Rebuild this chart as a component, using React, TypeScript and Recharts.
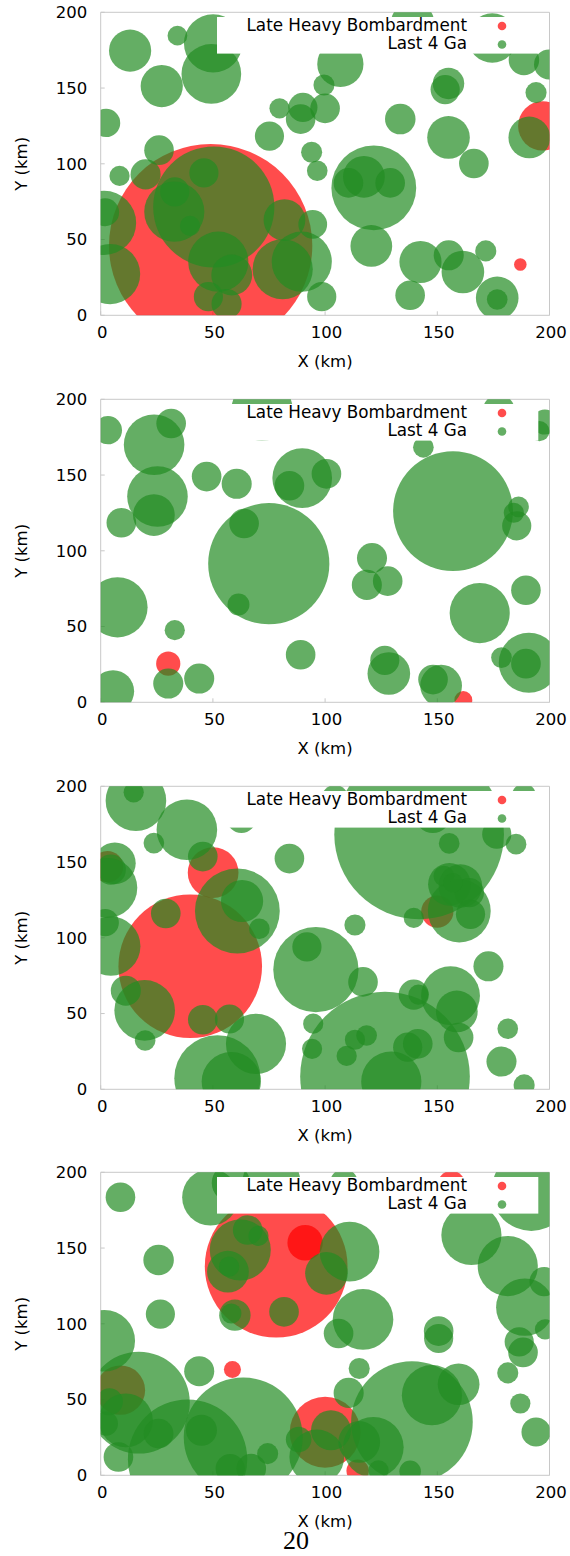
import { Legend, Scatter, ScatterChart, XAxis, YAxis } from "recharts";

// one crater: [x km, y km, radius km]
type Row = [number, number, number];

const TICKS = [0, 50, 100, 150, 200];
const SERIES_NAMES = ["Late Heavy Bombardment", "Last 4 Ga"];
const X_TITLE = "X (km)";
const Y_TITLE = "Y (km)";
const PAGE_NUMBER = "20";

const lhb1: Row[] = [
  [49, 46, 45.3], [197, 125, 11], [187, 33.5, 2.8],
];
const recent1: Row[] = [
  [13.1, 174.7, 9.4], [34.2, 184.6, 4.4], [50.1, 179.5, 13], [49.3, 159.3, 13.3],
  [27.2, 151.3, 9.4], [2.4, 127, 6.3], [26, 109, 6.6], [8.4, 92, 4.5],
  [20, 93, 6.7], [46, 94, 6.5], [33, 81.5, 6.5], [32.8, 68.4, 13.4],
  [39.8, 59, 4.5], [50.4, 71.5, 27], [1.5, 61, 14.3], [2, 68, 6.2],
  [4.2, 27.2, 13.4], [81.9, 62.9, 9.3], [94.5, 60, 6.4], [89.6, 35.4, 13.4],
  [81.1, 30.4, 13.4], [52.4, 35.4, 13.4], [58.4, 26.6, 9.1], [48, 12.3, 6.5],
  [56.1, 7.5, 6.7], [98.5, 12.3, 6.5], [94, 107.6, 4.7], [96.5, 95.4, 4.6],
  [75.2, 118.3, 6.5], [79.7, 136.6, 4.5], [90.1, 137.2, 6.5], [89.1, 129.5, 6.6],
  [100, 136.6, 6.6], [99.5, 152, 4.7], [106.8, 165.9, 10.3], [133.5, 129.5, 6.8],
  [121.7, 84.1, 18.9], [117.3, 91.4, 9.3], [110.4, 87.4, 6.6], [129, 87.4, 6.6],
  [120.6, 45.8, 9.3], [155, 117.4, 9.5], [155, 153, 7], [153.5, 149, 6.5],
  [166.3, 100.2, 6.6], [194, 147, 4.7], [191, 117.4, 9.3], [199.8, 165.6, 6.7],
  [188.6, 168.5, 6.8], [174.5, 183, 11], [139, 192.4, 9.8], [137.9, 13.2, 6.6],
  [142.5, 35.2, 9.4], [155.1, 39.6, 6.7], [161.4, 28.6, 9.5], [171.6, 42.5, 4.7],
  [176.7, 11.5, 9.5], [176.7, 10.4, 4.6],
];

const lhb2: Row[] = [
  [30.1, 25.5, 5.4], [161.6, 1.5, 4],
];
const recent2: Row[] = [
  [3.2, 179.6, 6.3], [23.8, 170, 13.5], [31.4, 184, 6.6], [25.3, 135.8, 13.5],
  [23.7, 123.6, 9.3], [9.2, 118.5, 6.6], [47.2, 149, 6.6], [60.6, 144.2, 6.7],
  [63.9, 118, 6.6], [74.9, 91.5, 27], [61.4, 64.5, 4.9], [89.8, 148, 13.3],
  [84.1, 142.9, 6.6], [100.6, 150.8, 6.6], [7.5, 62.7, 13.4], [33, 47.6, 4.5],
  [30.1, 12.4, 6.7], [43.9, 15.7, 6.7], [5.5, 7.3, 9.4], [89.1, 31.4, 6.6],
  [143.8, 168.3, 4.6], [157, 126.2, 26.7], [120.9, 95.2, 6.7], [118.6, 77.5, 6.7],
  [127.9, 80, 6.6], [186.2, 129, 4.6], [184.1, 125.1, 4.5], [185.4, 116.5, 6.5],
  [189.5, 74, 6.6], [168.9, 58.9, 13.4], [178.6, 29.5, 4.6], [190.8, 26.1, 13.4],
  [189.5, 25.5, 6.6], [126.6, 27.7, 6.5], [128.4, 19, 9.5], [148.1, 15, 6.6],
  [151.7, 11, 9.3], [197.9, 185, 5.6], [195.5, 179, 4.5], [71.9, 192.9, 13.7],
  [177.4, 192.6, 7.1],
];

const lhb3: Row[] = [
  [39.9, 81.2, 32], [50.1, 143, 11.3], [3, 147, 7], [150, 117.3, 7.2],
];
const recent3: Row[] = [
  [15.7, 190.5, 13.5], [14.7, 196, 4.5], [23.7, 162.5, 4.6], [38.4, 171.3, 13.5],
  [45.5, 153.6, 6.6], [62.7, 178.8, 6.5], [6.3, 149.2, 9.3], [4.5, 145, 6.7],
  [3, 133, 13.3], [2, 110, 6.1], [4.5, 94.5, 13.2], [29, 116, 6.6],
  [60.9, 117.7, 18.9], [63, 124.3, 9.4], [70.7, 106, 4.6], [84.1, 152.3, 6.6],
  [113.3, 108.4, 4.7], [95.9, 79, 19], [91.9, 94, 6.5], [116.9, 70.9, 6.6],
  [11.2, 65.1, 6.7], [19.6, 52.1, 13.5], [19.8, 32.2, 4.6], [45.5, 45.9, 6.6],
  [57.4, 46.4, 6.5], [69.2, 30, 13.4], [52, 7.3, 19.2], [58.2, 5.1, 13.2],
  [94.7, 43.3, 4.5], [94.2, 26.7, 4.5], [126.7, 8.4, 37.8], [129.5, 5.1, 13.4],
  [113.3, 32.7, 4.5], [118.5, 35.5, 4.6], [109.6, 22, 4.5], [136.8, 27.8, 6.5],
  [141.3, 30, 6.6], [139.5, 62.5, 6.7], [141.6, 62.5, 4.5], [155.9, 61.8, 13.1],
  [158.7, 51.4, 9.3], [159.5, 34.2, 6.6], [172.8, 81.2, 6.7], [181.4, 40, 4.6],
  [178.6, 18.3, 6.7], [188.7, 2.9, 4.7], [141.9, 168.3, 37.8], [155.3, 162.3, 4.6],
  [176.5, 168.4, 6.5], [185.1, 161.8, 4.6], [155.4, 135.3, 9.5], [152.9, 140.8, 4.6],
  [160.3, 134.2, 9.7], [164.3, 129.8, 6.5], [159.8, 117.7, 14], [164.8, 115.5, 6.5],
  [139.5, 113.2, 4.5], [157, 136.4, 4.3], [104.4, 192, 6], [188.6, 194, 5.3],
  [148, 181, 8],
];

const lhb4: Row[] = [
  [78.2, 138, 31.8], [91.1, 153.5, 7.9], [58.7, 69.8, 3.8], [100, 28.4, 15.8],
  [114.5, 3, 5], [156.3, 191.8, 6.2], [8.8, 56.2, 11],
];
const recent4: Row[] = [
  [8.8, 183.5, 6.6], [25.8, 142.1, 6.8], [26.6, 106.4, 6.5], [48.9, 183.5, 12.6],
  [58, 193, 8.5], [76.1, 193.6, 12.9], [108.4, 193, 6.2], [65.5, 161.9, 6.6],
  [70.3, 158, 4.5], [62.2, 148.7, 13.6], [56.7, 134.4, 9.3], [57.2, 137.7, 4.5],
  [59.8, 105.7, 7], [58.2, 106.8, 4.5], [81.7, 107.9, 6.6], [110.9, 147.6, 13.3],
  [100.6, 133.3, 9.5], [116.9, 102.9, 13.5], [106, 93.6, 6.6], [115.2, 70.5, 4.7],
  [110.5, 54.4, 6.7], [150.6, 95.2, 6.6], [150.6, 90.3, 6.5], [138.7, 35.2, 27.1],
  [147.6, 52.9, 13.4], [159.5, 60.1, 9.3], [137.9, 2.6, 4.8], [123.8, 3.3, 4.5],
  [115.2, 22, 9.3], [121.5, 18.5, 13.5], [102.6, 29.7, 8.9], [96.3, 12.1, 12.2],
  [88.2, 23.6, 5.7], [74.4, 14.3, 4.7], [67.1, 4.4, 6.6], [57.7, 4.4, 6.5],
  [63.5, 25.3, 26.5], [38.7, 10.6, 26.6], [17, 48, 22.7], [1.6, 88.8, 13.7],
  [3.9, 48.5, 6], [2.3, 34.1, 5.4], [11.2, 36.3, 12], [7.9, 12.1, 6.6],
  [25.8, 27.5, 6.6], [43.9, 68.7, 6.7], [44.9, 29.7, 6.9], [165.2, 158.6, 13.4],
  [181.4, 138.1, 13.4], [191.9, 187.7, 17.8], [189, 111, 12.8], [197.6, 127.8, 6.5],
  [198, 96.3, 4.5], [186.5, 88.1, 6.5], [188.2, 81.1, 6.6], [181.4, 67.6, 4.7],
  [187, 47.4, 4.5], [194, 28.6, 6.5],
];

const panels = [
  { lhb: lhb1, recent: recent1 },
  { lhb: lhb2, recent: recent2 },
  { lhb: lhb3, recent: recent3 },
  { lhb: lhb4, recent: recent4 },
];

// layout
const FONT = "DejaVu Sans";
const CHART_W = 570;
const CHART_H = 387;
const PANEL_TOPS = [0, 387, 774, 1160];
const PLOT_LEFT = 100.7;
const PLOT_TOP = 12.3;
const PLOT_W = 448.8;
const PLOT_H = 303;
const PX_PER_KM = PLOT_W / 200;
const BORDER = "#c8c8c8";
const RED = "#ff0000";
const GREEN = "#228b22";
const LEG_W = 321.3;
const LEG_H = 36.6;
const LEG_PAD = 3;

const toPoints = (rows: Row[]) => rows.map(([x, y, r]) => ({ x, y, r }));

const renderCrater = (props: any) => (
  <circle
    cx={props.cx}
    cy={props.cy}
    r={props.payload.r * PX_PER_KM}
    fill={props.fill}
    fillOpacity={0.7}
  />
);

function CraterLegend() {
  const colors = [RED, GREEN];
  return (
    <svg
      width={LEG_W}
      height={LEG_H + 2 * LEG_PAD}
      style={{ display: "block", overflow: "visible" }}
    >
      <rect x={0} y={LEG_PAD} width={LEG_W} height={LEG_H} fill="#fff" />
      {SERIES_NAMES.map((name, i) => (
        <g key={name}>
          <text
            x={250}
            y={LEG_PAD + 14.3 + i * 18}
            textAnchor="end"
            fontFamily={FONT}
            fontSize={16.8}
            fill="#000"
          >
            {name}
          </text>
          <circle
            cx={285}
            cy={LEG_PAD + 9 + i * 18.5}
            r={4.3}
            fill={colors[i]}
            fillOpacity={0.7}
          />
        </g>
      ))}
    </svg>
  );
}

function CraterPanel({ lhb, recent }: { lhb: Row[]; recent: Row[] }) {
  return (
    <ScatterChart
      width={CHART_W}
      height={CHART_H}
      margin={{ top: PLOT_TOP, right: CHART_W - PLOT_LEFT - PLOT_W, bottom: 0, left: 0 }}
    >
      <XAxis
        dataKey="x"
        type="number"
        domain={[0, 200]}
        ticks={TICKS}
        interval={0}
        allowDataOverflow
        height={CHART_H - PLOT_TOP - PLOT_H}
        stroke={BORDER}
        tickSize={-4}
        tickMargin={15.3}
        tick={{ fill: "#000", fontSize: 16.5, fontFamily: FONT, dx: 1.5 }}
        label={{
          content: () => (
            <text
              x={PLOT_LEFT + PLOT_W / 2}
              y={PLOT_TOP + PLOT_H + 51.4}
              textAnchor="middle"
              fontFamily={FONT}
              fontSize={16.5}
              fill="#000"
            >
              {X_TITLE}
            </text>
          ),
        }}
      />
      <XAxis
        xAxisId="top"
        orientation="top"
        mirror
        type="number"
        domain={[0, 200]}
        ticks={TICKS}
        interval={0}
        allowDataOverflow
        stroke={BORDER}
        tickSize={4}
        tick={false}
      />
      <YAxis
        dataKey="y"
        type="number"
        domain={[0, 200]}
        ticks={TICKS}
        interval={0}
        allowDataOverflow
        width={PLOT_LEFT}
        stroke={BORDER}
        tickSize={-4}
        tickMargin={17.4}
        tick={{ fill: "#000", fontSize: 16.5, fontFamily: FONT }}
        label={{
          content: () => {
            const cx = 27;
            const cy = PLOT_TOP + PLOT_H / 2;
            return (
              <text
                x={cx}
                y={cy}
                transform={`rotate(-90, ${cx}, ${cy})`}
                textAnchor="middle"
                fontFamily={FONT}
                fontSize={16.5}
                fill="#000"
              >
                {Y_TITLE}
              </text>
            );
          },
        }}
      />
      <YAxis
        yAxisId="right"
        orientation="right"
        mirror
        type="number"
        domain={[0, 200]}
        ticks={TICKS}
        interval={0}
        allowDataOverflow
        stroke={BORDER}
        tickSize={4}
        tick={false}
      />
      <Scatter
        name={SERIES_NAMES[0]}
        data={toPoints(lhb)}
        fill={RED}
        shape={renderCrater}
        isAnimationActive={false}
      />
      <Scatter
        name={SERIES_NAMES[1]}
        data={toPoints(recent)}
        fill={GREEN}
        shape={renderCrater}
        isAnimationActive={false}
      />
      <Legend
        layout="vertical"
        align="center"
        verticalAlign="middle"
        content={<CraterLegend />}
        wrapperStyle={{
          left: 216.7,
          top: PLOT_TOP + 4.2 - LEG_PAD,
          width: LEG_W,
          height: LEG_H + 2 * LEG_PAD,
          lineHeight: 0,
        }}
      />
    </ScatterChart>
  );
}

export default function App() {
  return (
    <div
      style={{
        position: "absolute",
        left: 0,
        top: 0,
        width: 570,
        height: 1556,
        background: "#fff",
      }}
    >
      {panels.map((p, i) => (
        <div key={i} style={{ position: "absolute", left: 0, top: PANEL_TOPS[i] }}>
          <CraterPanel lhb={p.lhb} recent={p.recent} />
        </div>
      ))}
      <svg
        width={570}
        height={36}
        style={{ position: "absolute", left: 0, top: 1520 }}
      >
        <text
          x={296}
          y={29}
          textAnchor="middle"
          fontFamily="Liberation Serif"
          fontSize={26}
          fill="#000"
        >
          {PAGE_NUMBER}
        </text>
      </svg>
    </div>
  );
}
